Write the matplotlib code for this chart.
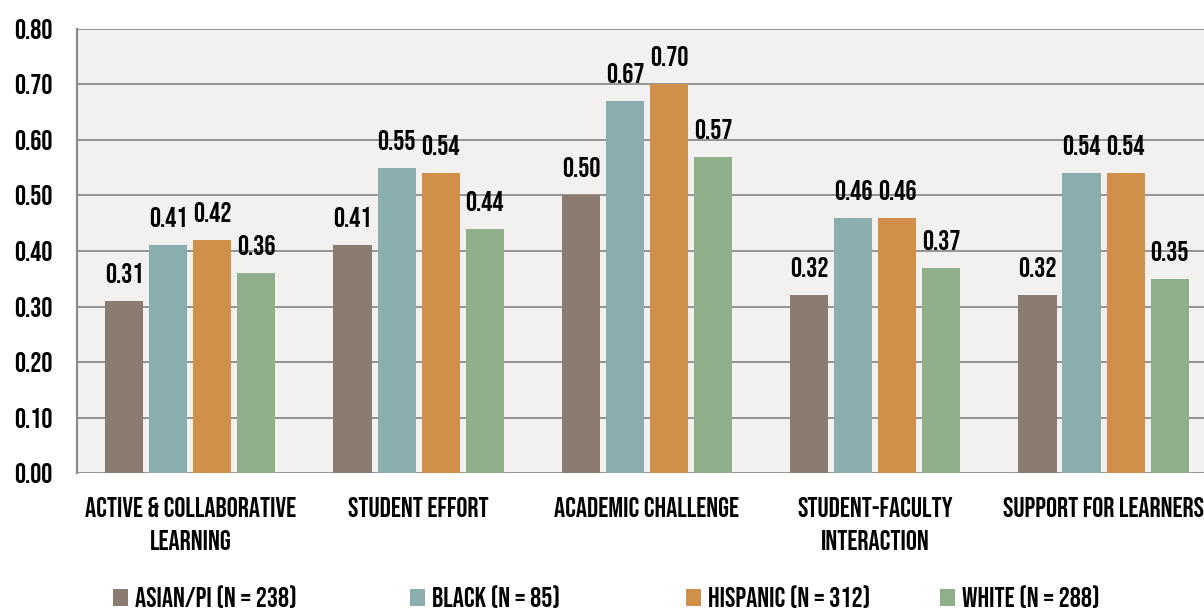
import matplotlib.pyplot as plt
import numpy as np

plt.rcParams['font.family'] = ['Bebas Neue', 'DejaVu Sans']

# chart data
categories = ['ACTIVE & COLLABORATIVE\nLEARNING', 'STUDENT EFFORT', 'ACADEMIC CHALLENGE',
              'STUDENT-FACULTY\nINTERACTION', 'SUPPORT FOR LEARNERS']
series = ['ASIAN/PI (N = 238)', 'BLACK (N = 85)', 'HISPANIC (N = 312)', 'WHITE (N = 288)']
asian = [0.31, 0.41, 0.50, 0.32, 0.32]
black = [0.41, 0.55, 0.67, 0.46, 0.54]
hispanic = [0.42, 0.54, 0.70, 0.46, 0.54]
white = [0.36, 0.44, 0.57, 0.37, 0.35]
colors = ['#8B7B70', '#8AADAD', '#D0904A', '#8FAE8A']

fig = plt.figure(figsize=(12.04, 6.09), dpi=100)
ax = fig.add_axes([0.064, 0.2233, 0.936, 0.7291])
ax.set_facecolor('#F2F1EF')

x = np.arange(len(categories))
w = 0.167
step = 0.193
bars = []
for i, (vals, lab, c) in enumerate(zip([asian, black, hispanic, white], series, colors)):
    pos = x + (i - 1.5) * step
    b = ax.bar(pos, vals, width=w, color=c, label=lab, zorder=3)
    bars.append(b)
    for p, v in zip(pos, vals):
        ax.annotate('%.2f' % v, (p, v), xytext=(0, 13), textcoords='offset points',
                    ha='center', va='baseline', fontsize=20)

ticks = np.arange(0, 0.81, 0.1)
ax.set_ylim(0, 0.8)
ax.set_xlim(-0.496, 4.44)
ax.set_yticks(ticks)
ax.set_yticklabels(['%.2f' % t for t in ticks], fontsize=20)
ax.set_xticks(x)
ax.set_xticklabels(categories, fontsize=20, linespacing=1.65)
ax.tick_params(axis='y', length=0, pad=18)
ax.tick_params(axis='x', length=0, pad=17)
ax.yaxis.grid(True, color='#8c8c8c', linewidth=1.3, zorder=0)
for s in ['top', 'right', 'bottom']:
    ax.spines[s].set_visible(False)
ax.spines['left'].set_color('#8c8c8c')
ax.spines['left'].set_linewidth(1.6)

# legend entries placed one by one, like the original
leg_x = [113, 410, 686, 940]
for b, lab, lx in zip(bars, series, leg_x):
    fig.legend([b], [lab], loc='center left', bbox_to_anchor=(lx / 1204, 0.02),
               frameon=False, fontsize=20, borderpad=0, borderaxespad=0,
               handlelength=0.55, handleheight=0.55, handletextpad=0.25)

fig.savefig('out.png', dpi=100)
